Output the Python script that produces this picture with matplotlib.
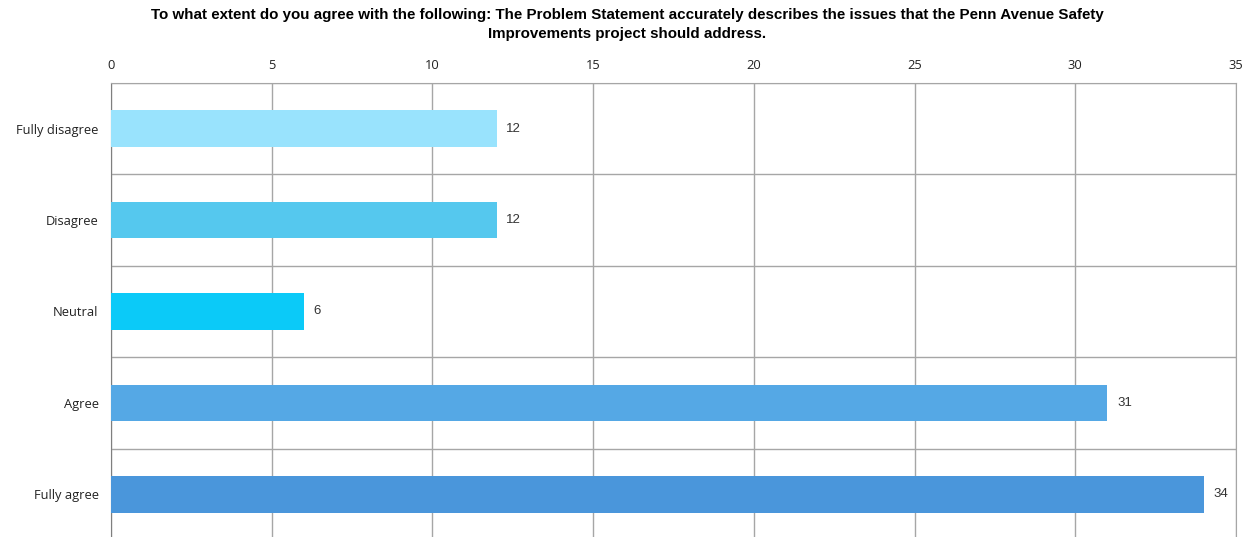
import matplotlib
matplotlib.use("Agg")
import matplotlib.pyplot as plt
import numpy as np

categories = ["Fully disagree", "Disagree", "Neutral", "Agree", "Fully agree"]
values = [12, 12, 6, 31, 34]
colors = ["#99E3FD", "#55C8EE", "#0BCAF8", "#55A8E5", "#4A96DB"]
xticks = [0, 5, 10, 15, 20, 25, 30, 35]
title = ("To what extent do you agree with the following: The Problem Statement accurately describes the issues that the Penn Avenue Safety\n"
         "Improvements project should address.")

fig = plt.figure(figsize=(12.54, 5.37), dpi=100)
ax = fig.add_axes([111/1254, -3/537, (1236-111)/1254, (537-83+3)/537])

y = np.arange(len(categories))
ax.barh(y, values, height=0.4, color=colors, zorder=3)
ax.set_ylim(len(categories) - 0.5, -0.5)
ax.set_xlim(0, 35)

for yi, v in zip(y, values):
    ax.text(v + 0.3, yi, str(v), va="center", ha="left", fontsize=9.5,
            family="Liberation Sans", color="#333333")

ax.set_xticks(xticks)
ax.set_xticklabels([str(t) for t in xticks], family="Open Sans", fontsize=9.3, color="#222222")
ax.xaxis.tick_top()
ax.tick_params(axis="x", length=0, pad=8)
ax.set_yticks(y)
ax.set_yticklabels(categories, family="Open Sans", fontsize=9.3, color="#222222")
ax.tick_params(axis="y", length=0, pad=9)
ax.set_yticks(np.arange(-0.5, len(categories), 1), minor=True)
ax.tick_params(axis="y", which="minor", length=0)
ax.grid(axis="x", which="major", color="#a6a6a6", linewidth=1, zorder=0)
ax.grid(axis="y", which="minor", color="#a6a6a6", linewidth=1, zorder=0)
for s in ["top", "right", "bottom"]:
    ax.spines[s].set_color("#a6a6a6")
ax.spines["left"].set_color("#7f7f7f")
ax.spines["bottom"].set_visible(False)

fig.text(0.5, 1 - 8/537, title, ha="center", va="top", fontsize=10.9,
         fontweight="bold", family="Liberation Sans", linespacing=1.45)

fig.savefig("out.png", dpi=100)
